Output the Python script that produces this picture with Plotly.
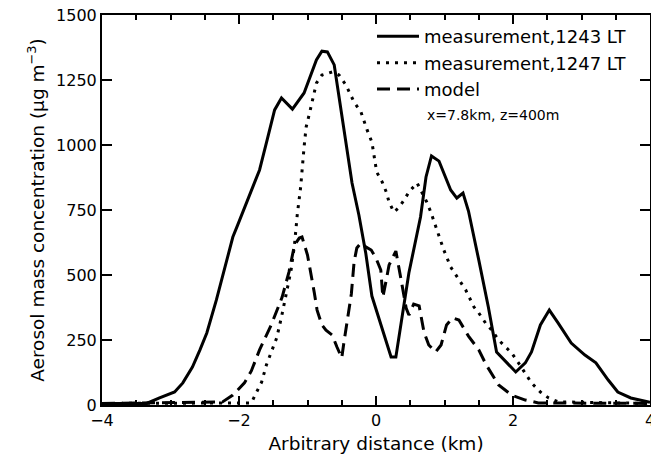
import plotly.graph_objects as go

# --- data ---
x_1243 = [-4.0, -3.35, -3.16, -2.94, -2.82, -2.68, -2.57, -2.47, -2.33, -2.24, -2.09, -2.02,
          -1.88, -1.70, -1.59, -1.48, -1.38, -1.22, -1.05, -0.87, -0.79, -0.71, -0.61, -0.54,
          -0.44, -0.35, -0.25, -0.15, -0.06, 0.22, 0.29, 0.48, 0.65, 0.73, 0.81, 0.92, 1.09,
          1.18, 1.27, 1.35, 1.50, 1.64, 1.76, 2.04, 2.18, 2.27, 2.40, 2.53, 2.66, 2.85, 3.05,
          3.21, 3.39, 3.53, 3.72, 4.0]
y_1243 = [6, 6, 27, 50, 85, 146, 212, 277, 404, 492, 646, 692, 785, 904, 1019, 1135, 1181,
          1138, 1200, 1327, 1361, 1358, 1308, 1185, 1019, 854, 731, 585, 419, 185, 185, 508,
          723, 877, 958, 938, 827, 796, 815, 746, 558, 377, 204, 127, 162, 204, 308, 365, 315,
          238, 192, 162, 96, 50, 27, 10]

x_1247 = [-4.0, -1.82, -1.75, -1.67, -1.60, -1.53, -1.45, -1.38, -1.34, -1.29, -1.24, -1.19,
          -1.15, -1.10, -1.05, -1.02, -0.97, -0.93, -0.87, -0.79, -0.64, -0.54, -0.44, -0.32,
          -0.22, -0.13, -0.06, 0.01, 0.09, 0.15, 0.19, 0.26, 0.33, 0.41, 0.48, 0.60, 0.74,
          0.80, 0.89, 0.99, 1.09, 1.21, 1.31, 1.43, 1.50, 1.60, 1.69, 1.79, 1.89, 1.98, 2.08,
          2.18, 2.27, 2.40, 2.52, 2.66, 4.0]
y_1247 = [6, 8, 46, 88, 154, 200, 258, 338, 396, 454, 519, 615, 731, 838, 992, 1069, 1123,
          1165, 1238, 1269, 1281, 1269, 1231, 1165, 1127, 1058, 1011, 896, 858, 819, 781, 742,
          758, 788, 819, 854, 781, 742, 673, 596, 531, 481, 442, 377, 354, 315, 288, 250, 223,
          200, 162, 123, 85, 50, 27, 12, 6]

x_model = [-4.0, -2.24, -2.09, -1.92, -1.82, -1.70, -1.53, -1.37, -1.27, -1.19, -1.12, -1.08,
           -1.00, -0.95, -0.90, -0.86, -0.79, -0.73, -0.64, -0.57, -0.50, -0.47, -0.42, -0.36,
           -0.32, -0.28, -0.22, -0.15, -0.07, 0.0, 0.07, 0.10, 0.15, 0.19, 0.29, 0.33, 0.38,
           0.44, 0.48, 0.55, 0.63, 0.70, 0.77, 0.87, 0.95, 1.03, 1.12, 1.21, 1.35, 1.50, 1.61,
           1.79, 1.98, 2.18, 2.37, 4.0]
y_model = [6, 12, 38, 85, 131, 212, 308, 415, 512, 615, 642, 646, 577, 508, 431, 365, 308,
           288, 269, 223, 181, 238, 327, 427, 550, 604, 623, 608, 596, 565, 519, 415, 481, 538,
           592, 527, 462, 373, 346, 388, 381, 281, 231, 204, 231, 308, 335, 327, 265, 212, 154,
           77, 38, 19, 8, 6]

x_ticks = [-4, -2, 0, 2, 4]
y_ticks = [0, 250, 500, 750, 1000, 1250, 1500]

names = ["measurement,1243 LT", "measurement,1247 LT", "model"]
note = "x=7.8km, z=400m"

FONT = "DejaVu Sans"

fig = go.Figure()
fig.add_trace(go.Scatter(x=x_1243, y=y_1243, mode="lines", name=names[0],
                         line=dict(color="black", width=3)))
fig.add_trace(go.Scatter(x=x_1247, y=y_1247, mode="lines", name=names[1],
                         line=dict(color="black", width=3, dash="3px,6px")))
fig.add_trace(go.Scatter(x=x_model, y=y_model, mode="lines", name=names[2],
                         line=dict(color="black", width=3, dash="13px,7px")))

fig.add_annotation(text=note, xref="paper", yref="paper", x=0.589, y=0.744,
                   xanchor="left", yanchor="middle", showarrow=False,
                   font=dict(family=FONT, size=14, color="black"))

axis_common = dict(showline=True, linecolor="black", linewidth=2, mirror="allticks",
                   ticks="inside", tickwidth=2, tickcolor="black", showgrid=False,
                   zeroline=False, ticklabeloverflow="allow", automargin=False,
                   tickfont=dict(family=FONT, size=16, color="black"))

fig.update_xaxes(range=[-4, 4], tickvals=x_ticks, ticklen=9,
                 minor=dict(dtick=0.5, ticks="inside", ticklen=5, tickwidth=2,
                            tickcolor="black", showgrid=False),
                 title=dict(text="Arbitrary distance (km)", standoff=8,
                            font=dict(family=FONT, size=18.5, color="black")),
                 **axis_common)
fig.update_yaxes(range=[0, 1500], tickvals=y_ticks, ticklen=10,
                 title=dict(text="Aerosol mass concentration (\u03bcg m<sup>\u22123</sup>)",
                            standoff=7, font=dict(family=FONT, size=18.5, color="black")),
                 **axis_common)

fig.update_layout(
    width=651, height=460,
    margin=dict(l=102, r=1, t=15, b=55, autoexpand=False),
    paper_bgcolor="white", plot_bgcolor="white",
    font=dict(family=FONT, size=16, color="black"),
    legend=dict(x=0.4927, y=0.992, xanchor="left", yanchor="top",
                bgcolor="rgba(0,0,0,0)", font=dict(family=FONT, size=18, color="black"),
                itemwidth=42, tracegroupgap=0),
)

# remove the page's default body margin so the figure sits at the window's corner
fig.write_html("out.html", config={"displayModeBar": False},
               post_script="document.body.style.margin='0';document.body.style.overflow='hidden';")
